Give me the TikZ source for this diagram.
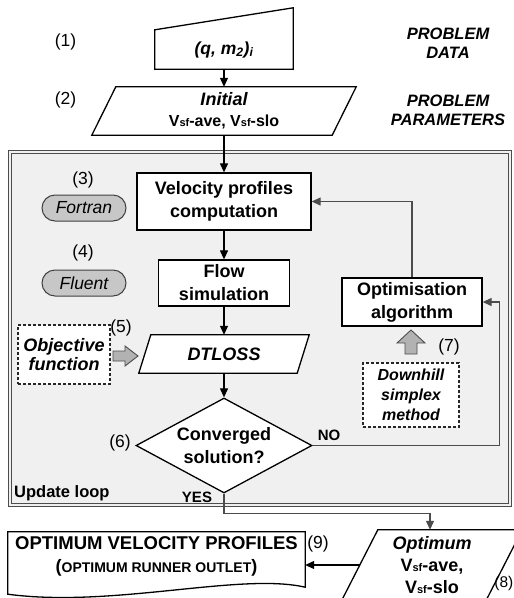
\documentclass[tikz,border=0pt]{standalone}
\usepackage{fontspec}
\setmainfont{Liberation Sans}
\usetikzlibrary{arrows.meta,calc,shapes.geometric}
\pgfdeclarelayer{back}
\pgfdeclarelayer{bg}
\pgfsetlayers{back,bg,main}
\newcommand\fsz[2]{\fontsize{#1}{#2}\selectfont}
\newcommand\Vsf[1]{V{\fsz{#1}{#1}sf}}
\begin{document}
\begin{tikzpicture}[x=1pt,y=-1pt,
  every node/.style={inner sep=0pt, align=center},
  flowshape/.style={draw=black, line width=1.3pt, fill=white, line join=miter},
  procbox/.style={flowshape, font=\bfseries\fsz{18}{23}},
  holder/.style={font=\bfseries\fsz{18}{23}},
  dashbox/.style={draw=black!85, line width=1.2pt, dash pattern=on 3pt off 2pt, fill=white},
  toolpill/.style={draw=black!75, line width=1pt, fill=black!22, rounded corners=13pt,
    minimum width=84, minimum height=26, font=\itshape\fsz{17.5}{17.5}},
  stepno/.style={font=\fsz{17.5}{17.5}},
  sidenote/.style={font=\bfseries\itshape\fsz{16.5}{19}},
  conn/.style={line width=1.2pt, -{Triangle[length=9pt,width=8pt]}},
  loopconn/.style={conn, draw=black!70},
  fatarrow/.style={draw=black!70, line width=0.9pt, fill=black!30, line join=miter},
  loopframe/.style={draw=black!70, line width=0.9pt, double=black!6, double distance=2.5pt, fill=black!6}
]
\useasboundingbox (0,0) rectangle (514,598);

% update loop frame
\begin{pgfonlayer}{back}
  \node[loopframe, minimum width=500, minimum height=353] (loop) at (260,328.5) {};
\end{pgfonlayer}

% text holders of the drawn shapes
\node[holder, minimum width=138, minimum height=39, font=\bfseries\itshape\fsz{17.5}{17.5}] (data) at (224,49.5)
  {(q, m\textsubscript{2})\textsubscript{i}};
\node[holder, minimum width=240, minimum height=48, font=\bfseries\fsz{17}{21}] (init) at (224,111)
  {{\itshape\fsz{18}{18}Initial}\\{\fsz{16}{16}\Vsf{11}-ave, \Vsf{11}-slo}};
\node[holder, minimum width=158, minimum height=38, font=\bfseries\itshape\fsz{18}{18}] (dt) at (224,354) {DTLOSS};
\node[holder, minimum width=144, minimum height=70, font=\bfseries\fsz{18}{22}] (opt) at (432,565)
  {{\itshape Optimum}\\\Vsf{11}-ave,\\\Vsf{11}-slo};
\node[holder, minimum width=297, minimum height=48] (doc) at (156.5,556)
  {{\fsz{18.5}{18.5}OPTIMUM VELOCITY PROFILES}\\({\fsz{14}{14}OPTIMUM RUNNER OUTLET})};

% outlines of input/output shapes
\begin{pgfonlayer}{bg}
  \draw[flowshape] (data.south west) -- (data.north west) -- ($(data.north east)+(0,-22)$)
    -- (data.south east) -- cycle;
  \draw[flowshape] ($(init.north west)+(12,0)$) -- ($(init.north east)+(12,0)$)
    -- ($(init.south east)+(-12,0)$) -- ($(init.south west)+(-12,0)$) -- cycle;
  \draw[flowshape] ($(dt.north west)+(6,0)$) -- ($(dt.north east)+(6,0)$)
    -- ($(dt.south east)+(-6,0)$) -- ($(dt.south west)+(-6,0)$) -- cycle;
  \draw[flowshape] ($(opt.north west)+(18,0)$) -- ($(opt.north east)+(18,0)$)
    -- ($(opt.south east)+(-18,0)$) -- ($(opt.south west)+(-18,0)$) -- cycle;
  \draw[flowshape] (doc.north west) -- (doc.north east) -- ($(doc.south east)+(0,7)$)
    .. controls ($(doc.south east)+(-65,-8)$) and ($(doc.south west)+(105,28)$)
    .. ($(doc.south west)+(0,14)$) -- cycle;
\end{pgfonlayer}

% process steps
\node[procbox, minimum width=174, minimum height=57] (velo) at (224,201.5) {Velocity profiles\\computation};
\node[procbox, minimum width=131, minimum height=46] (flow) at (224,283) {Flow\\simulation};
\node[procbox, minimum width=140, minimum height=48] (optim) at (412,302) {Optimisation\\algorithm};
\node[diamond, aspect=1.85, flowshape, minimum width=176, minimum height=95,
  font=\bfseries\fsz{18}{23}] (dia) at (224,445.5) {Converged\\solution?};

% tools and methods
\node[toolpill] (fortran) at (84,208) {Fortran};
\node[toolpill] (fluent) at (84,283) {Fluent};
\node[dashbox, minimum width=92, minimum height=59, font=\bfseries\itshape\fsz{18}{19}] (obj) at (64,354.5)
  {Objective\\function};
\node[dashbox, minimum width=96, minimum height=64, font=\bfseries\itshape\fsz{16}{20}] (dhs) at (411,395)
  {Downhill\\simplex\\method};
\draw[fatarrow] (113,351) -- (125,351) -- (125,346) -- (138,356) -- (125,366) -- (125,361) -- (113,361) -- cycle;
\draw[fatarrow] (405,354) -- (405,343) -- (397,343) -- (411,330) -- (425,343) -- (417,343) -- (417,354) -- cycle;

% step numbers
\node[stepno] (n1) at (65.5,42) {(1)};
\node[stepno] (n2) at (65.5,100) {(2)};
\node[stepno] (n3) at (83,180) {(3)};
\node[stepno] (n4) at (83,253) {(4)};
\node[stepno] (n5) at (121,328) {(5)};
\node[stepno] (n6) at (120,443) {(6)};
\node[stepno] (n7) at (449,347) {(7)};
\node[stepno, anchor=east, font=\fsz{15.5}{15.5}] (n8) at (513.5,583) {(8)};
\node[stepno] (n9) at (318,544) {(9)};

% side notes and labels
\node[sidenote] (pdata) at (448,43) {PROBLEM\\DATA};
\node[sidenote] (ppar) at (448,110) {PROBLEM\\PARAMETERS};
\node[anchor=west, font=\bfseries\fsz{16.5}{16.5}] (upd) at (14,493) {Update loop};
\node[font=\bfseries\fsz{15}{15}] (yes) at (197,497) {YES};
\node[font=\bfseries\fsz{15}{15}] (no) at (329,435) {NO};

% connectors
\coordinate (optin) at ($(opt.north)+(-2,0)$);
\draw[conn] (data.south) -- (init.north);
\draw[conn] (init.south) -- (velo.north);
\draw[conn] (velo.south) -- (flow.north);
\draw[conn] (flow.south) -- (dt.north);
\draw[conn] (dt.south) -- (dia.north);
\draw[loopconn] (dia.east) -- ++(187,0) |- (optim.east);
\draw[loopconn] (optim.north) |- (velo.east);
\draw[loopconn] (dia.south) -- ++(0,20) -| (optin);
\draw[conn] (opt.west) -- (opt.west -| doc.east);
\end{tikzpicture}
\end{document}
